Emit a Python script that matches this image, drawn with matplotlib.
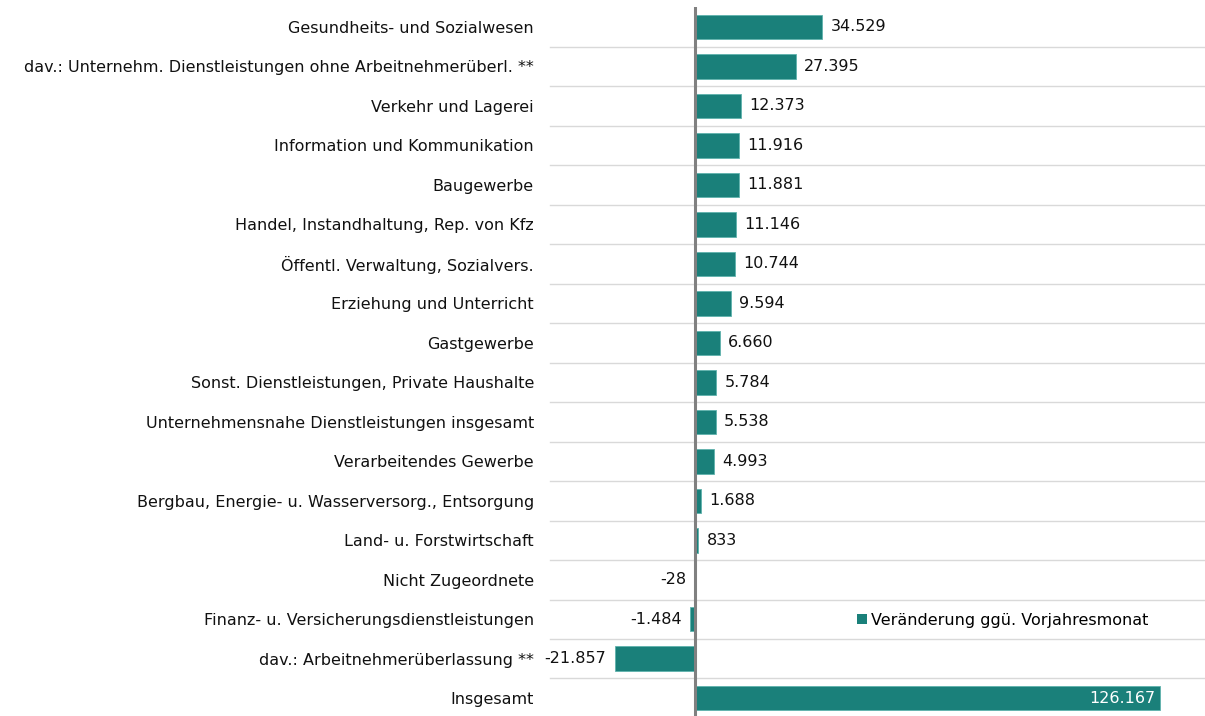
import matplotlib
matplotlib.use("Agg")
import matplotlib.pyplot as plt
from matplotlib.patches import Patch

categories = [
    "Gesundheits- und Sozialwesen",
    "dav.: Unternehm. Dienstleistungen ohne Arbeitnehmerüberl. **",
    "Verkehr und Lagerei",
    "Information und Kommunikation",
    "Baugewerbe",
    "Handel, Instandhaltung, Rep. von Kfz",
    "Öffentl. Verwaltung, Sozialvers.",
    "Erziehung und Unterricht",
    "Gastgewerbe",
    "Sonst. Dienstleistungen, Private Haushalte",
    "Unternehmensnahe Dienstleistungen insgesamt",
    "Verarbeitendes Gewerbe",
    "Bergbau, Energie- u. Wasserversorg., Entsorgung",
    "Land- u. Forstwirtschaft",
    "Nicht Zugeordnete",
    "Finanz- u. Versicherungsdienstleistungen",
    "dav.: Arbeitnehmerüberlassung **",
    "Insgesamt",
]
values = [34529, 27395, 12373, 11916, 11881, 11146, 10744, 9594, 6660,
          5784, 5538, 4993, 1688, 833, -28, -1484, -21857, 126167]
series_name = "Veränderung ggü. Vorjahresmonat"

def fmt(v):
    return f"{v:,}".replace(",", ".")

color = "#1A807A"
plt.rcParams["font.family"] = ["DejaVu Sans"]
fs = 11.5
txt = "#111111"

fig = plt.figure(figsize=(12.05, 7.16), dpi=100)
ax = fig.add_axes([0.45, 0.0, 0.55, 0.99])
y = list(range(len(categories)))
ax.barh(y, values, height=0.62, color=color, edgecolor="#5FB3AD", linewidth=0.6, zorder=3)
ax.set_ylim(17.45, -0.5)
ax.set_xlim(-41550, 138500)
ax.axvline(0, color="#808080", linewidth=2.2, zorder=4)
for b in [i + 0.5 for i in range(len(categories) - 1)]:
    ax.axhline(b, xmin=0.012, xmax=1.0, color="#D9D9D9", linewidth=1.0, zorder=1)
for s in ax.spines.values():
    s.set_visible(False)
ax.set_xticks([])
ax.set_yticks(y)
ax.set_yticklabels(categories, fontsize=fs, color=txt)
ax.tick_params(axis="y", length=0, pad=6)

last = len(values) - 1
for i, v in enumerate(values):
    if i == last:
        ax.annotate(fmt(v), (v, i), xytext=(-3, 0), textcoords="offset points",
                    ha="right", va="center", fontsize=fs, color="white", zorder=5)
    elif v >= 0:
        ax.annotate(fmt(v), (v, i), xytext=(6, 0), textcoords="offset points",
                    ha="left", va="center", fontsize=fs, color=txt, zorder=5)
    else:
        ax.annotate(fmt(v), (v, i), xytext=(-6, 0), textcoords="offset points",
                    ha="right", va="center", fontsize=fs, color=txt, zorder=5)

ax.legend(handles=[Patch(facecolor=color, label=series_name)], loc="center",
          bbox_to_anchor=(0.695, 0.135), frameon=False, fontsize=fs,
          handlelength=0.6, handleheight=0.6, handletextpad=0.3)

fig.savefig("out.png", dpi=100)
